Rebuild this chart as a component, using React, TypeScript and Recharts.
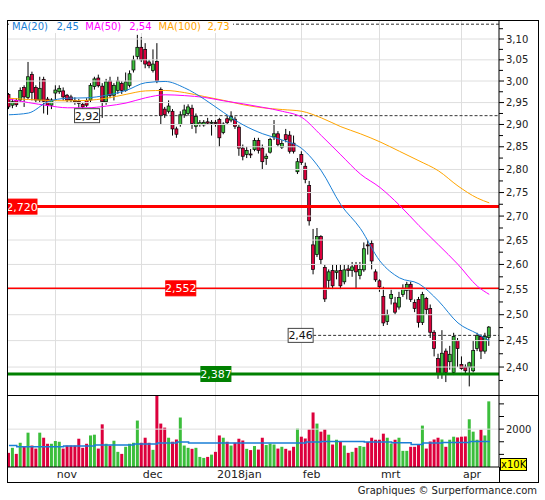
import React from 'react'
import {
  ComposedChart,
  Bar,
  Line,
  XAxis,
  YAxis,
  ReferenceLine,
  ReferenceDot,
  Cell,
} from 'recharts'

// daily candles, index 0 = mid-October 2017
const opens = [
  2.969, 2.944, 2.955, 2.956, 2.985, 2.962, 3.015, 2.985, 2.956, 3.004, 2.958, 2.944,
  2.972, 2.975, 2.977, 2.967, 2.963, 2.955, 2.953, 2.946, 2.955, 2.956, 2.987, 3.007,
  2.988, 2.952, 3.0, 2.967, 2.978, 2.994, 2.978, 2.99, 3.026, 3.058,
  3.08, 3.075, 3.045, 3.025, 3.046, 2.98, 2.935, 2.93, 2.93, 2.89, 2.9, 2.922, 2.925,
  2.937, 2.896, 2.9, 2.899, 2.906, 2.903,
  2.905, 2.911, 2.882, 2.913, 2.91, 2.912, 2.894, 2.847, 2.833, 2.834, 2.844, 2.864,
  2.847, 2.824, 2.838, 2.872, 2.879, 2.849, 2.877, 2.876, 2.858, 2.795,
  2.833, 2.807, 2.765, 2.64, 2.62, 2.657, 2.594, 2.568, 2.588, 2.584, 2.588, 2.565,
  2.591, 2.588, 2.6, 2.578, 2.589, 2.64, 2.643, 2.585,
  2.567, 2.536, 2.487, 2.532, 2.523, 2.515, 2.54, 2.548, 2.56, 2.524, 2.53, 2.485,
  2.532, 2.512, 2.466, 2.416, 2.387, 2.43, 2.41, 2.39, 2.45,
  2.405, 2.4, 2.4, 2.393, 2.435, 2.458, 2.43, 2.456,
]
const highs = [
  2.972, 2.958, 2.96, 2.985, 2.99, 3.045, 3.022, 2.99, 3.01, 3.01, 2.963, 2.96,
  2.99, 2.99, 2.985, 2.97, 2.968, 2.962, 2.958, 2.95, 2.96, 2.995, 3.01, 3.015,
  2.995, 3.005, 3.01, 2.995, 3.01, 3.0, 3.02, 3.025, 3.06, 3.11,
  3.105, 3.09, 3.05, 3.075, 3.09, 2.985, 2.94, 2.955, 2.935, 2.895, 2.93, 2.945, 2.946,
  2.945, 2.925, 2.91, 2.91, 2.915, 2.91,
  2.91, 2.915, 2.905, 2.92, 2.93, 2.918, 2.9, 2.855, 2.85, 2.845, 2.87, 2.87,
  2.855, 2.835, 2.87, 2.91, 2.885, 2.865, 2.89, 2.885, 2.875, 2.825,
  2.84, 2.815, 2.775, 2.673, 2.675, 2.66, 2.6, 2.59, 2.6, 2.6, 2.6, 2.6,
  2.6, 2.605, 2.605, 2.605, 2.645, 2.65, 2.65, 2.59,
  2.57, 2.555, 2.51, 2.55, 2.535, 2.545, 2.56, 2.565, 2.565, 2.53, 2.535, 2.545,
  2.535, 2.52, 2.47, 2.425, 2.47, 2.435, 2.44, 2.465, 2.455,
  2.42, 2.405, 2.41, 2.45, 2.465, 2.462, 2.465, 2.478,
]
const lows = [
  2.935, 2.937, 2.94, 2.952, 2.94, 2.958, 2.955, 2.95, 2.95, 2.925, 2.922, 2.935,
  2.956, 2.97, 2.955, 2.95, 2.95, 2.945, 2.938, 2.932, 2.94, 2.95, 2.98, 2.985,
  2.915, 2.945, 2.96, 2.955, 2.97, 2.97, 2.975, 2.985, 3.02, 3.05,
  3.045, 3.03, 3.03, 3.02, 2.995, 2.9, 2.915, 2.925, 2.875, 2.87, 2.895, 2.915, 2.92,
  2.89, 2.88, 2.895, 2.895, 2.9, 2.875,
  2.895, 2.85, 2.878, 2.9, 2.905, 2.89, 2.83, 2.82, 2.825, 2.825, 2.84, 2.835,
  2.8, 2.81, 2.835, 2.865, 2.85, 2.845, 2.86, 2.835, 2.835, 2.79,
  2.81, 2.77, 2.68, 2.58, 2.615, 2.6, 2.525, 2.55, 2.55, 2.57, 2.55, 2.56,
  2.575, 2.575, 2.55, 2.57, 2.585, 2.62, 2.59, 2.565,
  2.545, 2.478, 2.48, 2.52, 2.5, 2.51, 2.535, 2.53, 2.525, 2.505, 2.475, 2.48,
  2.5, 2.455, 2.42, 2.378, 2.378, 2.372, 2.395, 2.385, 2.4,
  2.395, 2.385, 2.364, 2.39, 2.43, 2.415, 2.425, 2.44,
]
const closes = [
  2.94, 2.952, 2.945, 2.978, 2.963, 3.01, 2.973, 2.956, 2.983, 2.953, 2.944, 2.956,
  2.979, 2.983, 2.963, 2.956, 2.956, 2.952, 2.948, 2.94, 2.944, 2.99, 3.005, 2.989,
  2.952, 2.998, 2.966, 2.99, 3.0, 2.978, 2.998, 3.017, 3.05, 3.08,
  3.05, 3.04, 3.036, 3.04, 3.0, 2.92, 2.922, 2.942, 2.89, 2.878, 2.922, 2.933, 2.94,
  2.902, 2.918, 2.904, 2.905, 2.903, 2.905,
  2.902, 2.87, 2.901, 2.904, 2.918, 2.896, 2.847, 2.829, 2.842, 2.832, 2.864, 2.842,
  2.817, 2.829, 2.866, 2.879, 2.855, 2.857, 2.866, 2.84, 2.84, 2.817,
  2.815, 2.778, 2.69, 2.59, 2.657, 2.61, 2.531, 2.585, 2.557, 2.587, 2.557, 2.589,
  2.588, 2.595, 2.585, 2.59, 2.632, 2.638, 2.607, 2.569,
  2.555, 2.484, 2.5, 2.54, 2.505, 2.534, 2.552, 2.56, 2.53, 2.512, 2.485, 2.54,
  2.51, 2.466, 2.435, 2.387, 2.426, 2.39, 2.424, 2.458, 2.435,
  2.397, 2.393, 2.408, 2.431, 2.46, 2.43, 2.458, 2.476,
]
// volume in units of 10K shares
const volumes = [
  1060, 1260, 1020, 1460, 1300, 1860, 1350, 1230, 1860, 1660, 1420, 1420,
  1530, 1500, 1230, 1350, 1350, 1350, 1620, 1260, 1420, 1750, 1780, 1230,
  2190, 1420, 1350, 1540, 1100, 1020, 1300, 1420, 1460, 2340,
  1460, 1660, 1460, 1180, 3350, 2220, 2060, 1660, 1500, 1590, 2460, 1350, 1260,
  1220, 1260, 900, 860, 900, 990,
  1100, 1750, 1660, 1500, 1350, 1460, 1620, 1550, 1220, 1170, 1330, 1190,
  1660, 1370, 1430, 1390, 1230, 1300, 1220, 1150, 1300, 2020,
  1700, 1630, 1990, 2660, 2220, 1900, 1990, 1780, 1390, 1580, 1530, 1350,
  1060, 1100, 1260, 1330, 1300, 1490, 1660, 1580,
  1580, 1820, 1660, 1430, 1580, 1660, 1140, 1140, 1300, 1300, 1390, 2140,
  1230, 1510, 1590, 1660, 1590, 1300, 1580, 1700, 1670,
  1700, 1710, 2390, 1900, 1580, 1980, 1750, 3100,
]

// moving averages at these day indices
const maIdx = [0, 5, 10, 15, 20, 25, 30, 35, 40, 45, 50, 55, 60, 65, 70, 75, 80, 85, 90, 95, 100, 105, 110, 115, 120, 123]
const ma20 = [2.922, 2.926, 2.952, 2.96, 2.961, 2.967, 2.978, 2.996, 2.999, 2.984, 2.958, 2.927, 2.899, 2.879, 2.865, 2.846, 2.797, 2.724, 2.674, 2.607, 2.573, 2.561, 2.527, 2.484, 2.463, 2.45]
const ma50 = [2.958, 2.95, 2.943, 2.938, 2.938, 2.942, 2.949, 2.961, 2.968, 2.966, 2.962, 2.954, 2.947, 2.939, 2.93, 2.916, 2.875, 2.832, 2.79, 2.761, 2.723, 2.68, 2.64, 2.6, 2.556, 2.54]
const ma100 = [2.96, 2.957, 2.955, 2.954, 2.955, 2.96, 2.969, 2.977, 2.978, 2.973, 2.964, 2.955, 2.945, 2.938, 2.934, 2.93, 2.915, 2.895, 2.879, 2.861, 2.84, 2.819, 2.797, 2.764, 2.738, 2.728]

const volMaIdx = [0, 2, 14, 22, 32, 38, 43, 46, 76, 80, 91, 98, 103, 106, 111, 118, 123]
const volMa = [1350, 1300, 1330, 1370, 1410, 1450, 1490, 1450, 1490, 1510, 1490, 1460, 1390, 1450, 1470, 1510, 1530]

const monthTicks = [12, 34, 53, 75, 95, 116]
const monthLabels = ['nov', 'dec', '2018jan', 'feb', 'mrt', 'apr']

const priceTicks = [2.4, 2.45, 2.5, 2.55, 2.6, 2.65, 2.7, 2.75, 2.8, 2.85, 2.9, 2.95, 3.0, 3.05, 3.1]
const priceMinor = [2.375, 2.425, 2.475, 2.525, 2.575, 2.625, 2.675, 2.725, 2.775, 2.825, 2.875, 2.925, 2.975, 3.025, 3.075, 3.125]
const volTicks = [1000, 1500, 2000, 2500, 3000]

const levels = [
  { value: 2.72, label: '2,720', at: 3.34, fill: '#ff0000', width: 3 },
  { value: 2.552, label: '2,552', at: 44, fill: '#ff0000', width: 1.5 },
  { value: 2.387, label: '2,387', at: 53, fill: '#008000', width: 3 },
]
const dashed = [
  { value: 2.92, label: '2,92', at: 20 },
  { value: 2.46, label: '2,46', at: 74.7 },
]
const topDashed = 3.136

const FONT = '"DejaVu Sans", Verdana, sans-serif'
const GREEN = '#3cbe3c'
const RED = '#dc003c'
const GRID = '#dedede'
const C20 = '#1a7fd6'
const C50 = '#ff00ff'
const C100 = '#ffa500'
const X_DOMAIN: [number, number] = [-0.5, 125.5]
const P_DOMAIN: [number, number] = [2.3482, 3.1463]
const V_DOMAIN: [number, number] = [500, 3352]

const rows: any[] = opens.map((o, i) => ({
  i,
  open: o,
  high: highs[i],
  low: lows[i],
  close: closes[i],
  range: [lows[i], highs[i]],
  volume: volumes[i],
  up: closes[i] >= o,
}))
maIdx.forEach((d, k) => {
  rows[d].ma20 = ma20[k]
  rows[d].ma50 = ma50[k]
  rows[d].ma100 = ma100[k]
})
volMaIdx.forEach((d, k) => {
  rows[d].volMa = volMa[k]
})

const fmt = (v: number, n = 2) => v.toFixed(n).replace('.', ',')

function Candle(props: any) {
  const { x, y, width, height, payload } = props
  if (x == null || !payload) return null
  const top = Math.min(y, y + height)
  const h = Math.abs(height)
  const lh = Math.log(payload.high)
  const span = lh - Math.log(payload.low)
  const toY = (p: number) => (span > 0 ? top + (h * (lh - Math.log(p))) / span : top)
  const yo = toY(payload.open)
  const yc = toY(payload.close)
  const cx = x + width / 2
  return (
    <g>
      <line x1={cx} x2={cx} y1={top} y2={top + h} stroke="#000" strokeWidth={1} />
      <rect
        x={x}
        y={Math.min(yo, yc)}
        width={width}
        height={Math.max(Math.abs(yo - yc), 1)}
        fill={payload.up ? GREEN : RED}
        stroke="#000"
        strokeWidth={0.7}
      />
    </g>
  )
}

// the bar background spans the full plot height of its column;
// only the first trading day of each month gets a grid line
function MonthGrid(props: any) {
  const { x, y, width, height, index } = props
  const row = rows[index]
  if (x == null || !row || !monthTicks.includes(row.i)) return <g />
  const cx = Math.round(x + width / 2) + 0.5
  return <line x1={cx} x2={cx} y1={y} y2={y + height} stroke={GRID} strokeWidth={1} />
}

function PriceTick(props: any) {
  const { x, y, payload } = props
  const v = payload.value
  const major = priceTicks.some((t) => Math.abs(t - v) < 1e-6)
  return (
    <g>
      <line x1={x} x2={x + (major ? 5 : 4)} y1={y} y2={y} stroke="#000" />
      {major && (
        <text x={x + 7} y={y} dy="0.36em" fontSize={10} fontFamily={FONT} fill="#222">
          {fmt(v)}
        </text>
      )}
    </g>
  )
}

function VolTick(props: any) {
  const { x, y, payload } = props
  return (
    <g>
      <line x1={x} x2={x + 5} y1={y} y2={y} stroke="#000" />
      {payload.value === 2000 && (
        <text x={x + 7} y={y} dy="0.36em" fontSize={10} fontFamily={FONT} fill="#222">
          {payload.value}
        </text>
      )}
    </g>
  )
}

function MonthTick(props: any) {
  const { x, y, payload } = props
  const k = monthTicks.indexOf(payload.value)
  return (
    <text x={x + 1} y={y + 11} fontSize={11} fontFamily={FONT} fill="#222" textAnchor="start">
      {monthLabels[k]}
    </text>
  )
}

function Tag(props: any) {
  const { cx, cy, label, fill, text, stroke, w, h } = props
  if (cx == null) return null
  return (
    <g>
      <rect x={cx - w / 2} y={cy - h / 2} width={w} height={h} fill={fill} stroke={stroke} strokeWidth={1} />
      <text x={cx} y={cy} dy="0.36em" textAnchor="middle" fontSize={11} fontFamily={FONT} fill={text}>
        {label}
      </text>
    </g>
  )
}

export default function App() {
  const last = (a: number[]) => a[a.length - 1]
  return (
    <div style={{ position: 'absolute', left: 0, top: 0, width: 545, height: 500, background: '#fff', fontFamily: FONT }}>
      <div style={{ position: 'absolute', left: 7, top: 20 }}>
        <ComposedChart width={531} height={375} data={rows} margin={{ top: 0, right: 0, bottom: 0, left: 0 }}>
          <XAxis type="number" dataKey="i" domain={X_DOMAIN} ticks={monthTicks} interval={0} allowDataOverflow hide />
          <YAxis
            yAxisId="price"
            orientation="right"
            scale="log"
            domain={P_DOMAIN}
            allowDataOverflow
            ticks={[...priceTicks, ...priceMinor].sort((a, b) => a - b)}
            interval={0}
            width={39}
            tickSize={0}
            tickMargin={0}
            tickLine={false}
            axisLine={{ stroke: '#000' }}
            tick={(p: any) => <PriceTick {...p} />}
          />
          {priceTicks.map((t) => (
            <ReferenceLine key={'h' + t} yAxisId="price" y={t} stroke={GRID} strokeWidth={1} />
          ))}
          <ReferenceLine yAxisId="price" y={topDashed} stroke="#333" strokeDasharray="3 2" />
          {dashed.map((d) => (
            <ReferenceLine
              key={d.label}
              yAxisId="price"
              segment={[{ x: d.at + 3.2, y: d.value }, { x: X_DOMAIN[1], y: d.value }]}
              stroke="#333"
              strokeDasharray="3 2"
            />
          ))}
          {levels.map((l) => (
            <ReferenceLine key={l.label} yAxisId="price" y={l.value} stroke={l.fill} strokeWidth={l.width} />
          ))}
          <Bar
            yAxisId="price"
            dataKey="range"
            barSize={3}
            background={(p: any) => <MonthGrid {...p} />}
            shape={(p: any) => <Candle {...p} />}
            isAnimationActive={false}
          />
          <Line yAxisId="price" dataKey="ma100" stroke={C100} strokeWidth={1} dot={false} type="monotone" connectNulls isAnimationActive={false} />
          <Line yAxisId="price" dataKey="ma50" stroke={C50} strokeWidth={1} dot={false} type="monotone" connectNulls isAnimationActive={false} />
          <Line yAxisId="price" dataKey="ma20" stroke={C20} strokeWidth={1} dot={false} type="monotone" connectNulls isAnimationActive={false} />
          {levels.map((l) => (
            <ReferenceDot
              key={'t' + l.label}
              yAxisId="price"
              x={l.at}
              y={l.value}
              r={0}
              shape={(p: any) => <Tag {...p} label={l.label} fill={l.fill} stroke={l.fill} text="#fff" w={30} h={15} />}
            />
          ))}
          {dashed.map((d) => (
            <ReferenceDot
              key={'t' + d.label}
              yAxisId="price"
              x={d.at}
              y={d.value}
              r={0}
              shape={(p: any) => <Tag {...p} label={d.label} fill="#fff" stroke="#444" text="#111" w={25} h={14} />}
            />
          ))}
        </ComposedChart>
      </div>

      <div style={{ position: 'absolute', left: 7, top: 395 }}>
        <ComposedChart width={531} height={87} data={rows} margin={{ top: 0, right: 0, bottom: 0, left: 0 }}>
          <XAxis
            type="number"
            dataKey="i"
            domain={X_DOMAIN}
            ticks={monthTicks}
            interval={0}
            allowDataOverflow
            height={15}
            tickSize={0}
            tickMargin={0}
            tickLine={false}
            axisLine={{ stroke: '#000' }}
            tick={(p: any) => <MonthTick {...p} />}
          />
          <YAxis
            yAxisId="vol"
            orientation="right"
            domain={V_DOMAIN}
            allowDataOverflow
            ticks={volTicks}
            interval={0}
            width={39}
            tickSize={0}
            tickMargin={0}
            tickLine={false}
            axisLine={{ stroke: '#000' }}
            tick={(p: any) => <VolTick {...p} />}
          />
          <ReferenceLine yAxisId="vol" y={2000} stroke={GRID} strokeWidth={1} />
          <Bar
            yAxisId="vol"
            dataKey="volume"
            barSize={3}
            background={(p: any) => <MonthGrid {...p} />}
            isAnimationActive={false}
          >
            {rows.map((r) => (
              <Cell key={r.i} fill={r.up ? GREEN : RED} />
            ))}
          </Bar>
          <Line yAxisId="vol" dataKey="volMa" type="stepAfter" stroke={C20} strokeWidth={1.5} dot={false} connectNulls isAnimationActive={false} />
        </ComposedChart>
      </div>

      {/* legend of the moving averages */}
      <div
        style={{
          position: 'absolute',
          left: 9,
          top: 21,
          height: 12,
          lineHeight: '12px',
          fontSize: 10,
          background: '#fff',
          paddingLeft: 3,
          paddingRight: 3,
          whiteSpace: 'nowrap',
        }}
      >
        <span style={{ color: C20 }}>MA(20)</span>
        <span style={{ color: C20, marginLeft: 8.5 }}>{fmt(last(ma20))}</span>
        <span style={{ color: C50, marginLeft: 6.5 }}>MA(50)</span>
        <span style={{ color: C50, marginLeft: 8 }}>{fmt(last(ma50))}</span>
        <span style={{ color: C100, marginLeft: 7 }}>MA(100)</span>
        <span style={{ color: C100, marginLeft: 6.5 }}>{fmt(last(ma100))}</span>
      </div>

      {/* frame */}
      <div style={{ position: 'absolute', left: 7, top: 20, width: 532, height: 463, border: '1px solid #000', boxSizing: 'border-box' }} />
      <div style={{ position: 'absolute', left: 7, top: 395, width: 532, height: 1, background: '#000' }} />
      <div style={{ position: 'absolute', left: 499, top: 467, width: 1, height: 15, background: '#000' }} />

      <div
        style={{
          position: 'absolute',
          left: 500,
          top: 458,
          width: 27,
          height: 13,
          boxSizing: 'border-box',
          background: '#ffff00',
          border: '1px solid #000',
          fontSize: 10,
          lineHeight: '11px',
          textAlign: 'center',
        }}
      >
        x10K
      </div>

      <div style={{ position: 'absolute', left: 0, top: 485, width: 537, textAlign: 'right', fontSize: 10, color: '#222' }}>
        Graphiques © Surperformance.com
      </div>
    </div>
  )
}
